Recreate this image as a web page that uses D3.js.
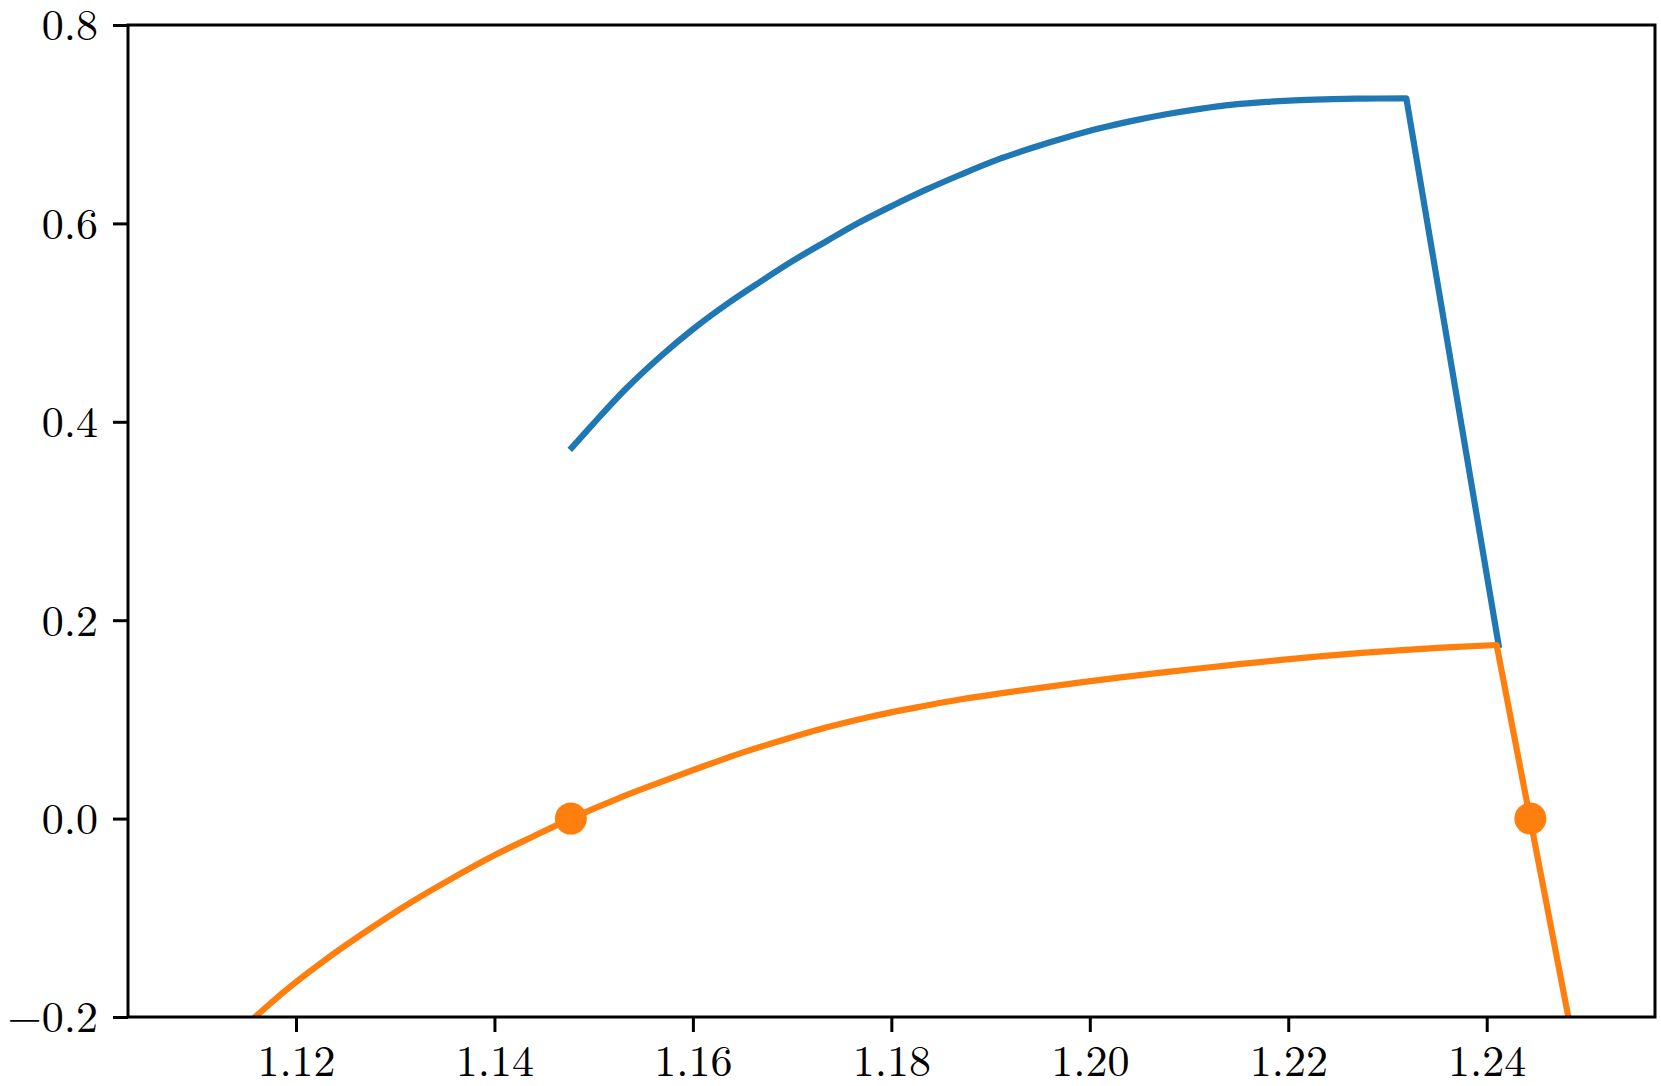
<!DOCTYPE html>
<html>
<head>
<meta charset="utf-8">
<script src="https://cdn.jsdelivr.net/npm/d3@7"></script>
<style>
  html, body { margin: 0; padding: 0; background: #ffffff; }
  svg { display: block; }
</style>
</head>
<body>
<svg id="chart" width="1661" height="1086"></svg>
<script>
// ---- data ----
// smooth branch of the blue curve, then its straight drop
const blueX = [1.1478, 1.1500, 1.1533, 1.1567, 1.1600, 1.1634, 1.1668, 1.1701, 1.1735, 1.1768,
               1.1802, 1.1835, 1.1869, 1.1909, 1.1943, 1.1977, 1.2010, 1.2044, 1.2077, 1.2111,
               1.2144, 1.2178, 1.2212, 1.2245, 1.2279, 1.2319];
const blueY = [0.374, 0.3985, 0.4338, 0.4656, 0.4933, 0.5185, 0.5412, 0.5624, 0.5823, 0.6011,
               0.6183, 0.634, 0.6488, 0.665, 0.6765, 0.6868, 0.6958, 0.7036, 0.7101, 0.7155,
               0.7197, 0.7225, 0.7243, 0.7253, 0.7258, 0.7261];
const blueDropX = [1.2319, 1.2412];
const blueDropY = [0.7261, 0.175];

const orangeX = [1.1100, 1.1161, 1.1186, 1.1228, 1.1271, 1.1313, 1.1356, 1.1398, 1.1440, 1.1477,
                 1.1525, 1.1568, 1.1610, 1.1653, 1.1695, 1.1737, 1.1780, 1.1829, 1.1869, 1.1910,
                 1.1950, 1.1991, 1.2031, 1.2072, 1.2112, 1.2153, 1.2193, 1.2234, 1.2274, 1.2315,
                 1.2355, 1.2410];
const orangeY = [-0.256, -0.198, -0.1761, -0.1435, -0.1135, -0.0862, -0.061, -0.038, -0.0175, 0.0,
                 0.0205, 0.037, 0.0525, 0.0675, 0.0805, 0.0925, 0.103, 0.1128, 0.120, 0.1262,
                 0.1318, 0.1373, 0.1424, 0.1471, 0.1516, 0.1559, 0.160, 0.1637, 0.167, 0.1699,
                 0.1723, 0.175];
const orangeDropX = [1.2410, 1.2500];
const orangeDropY = [0.175, -0.292];

const rootX = [1.1477, 1.2444];
const rootY = [0.0, 0.0];

const xTicks = [1.12, 1.14, 1.16, 1.18, 1.20, 1.22, 1.24];
const yTicks = [-0.2, 0.0, 0.2, 0.4, 0.6, 0.8];

// ---- layout ----
const W = 1661, H = 1086;
const margin = { left: 128, top: 25, right: 6, bottom: 69 };
const iw = W - margin.left - margin.right;
const ih = H - margin.top - margin.bottom;

const svg = d3.select("#chart");
const g = svg.append("g").attr("transform", `translate(${margin.left},${margin.top})`);

const x = d3.scaleLinear().domain([1.10307, 1.25696]).range([0, iw]);
const y = d3.scaleLinear().domain([-0.2, 0.8]).range([ih, 0]);

svg.append("defs").append("clipPath").attr("id", "clip")
  .append("rect").attr("x", 0).attr("y", 0).attr("width", iw).attr("height", ih);

const fontFamily = "'Latin Modern Roman', 'CMU Serif', 'Liberation Serif', 'DejaVu Serif', serif";

const smooth = d3.line().x(d => x(d[0])).y(d => y(d[1])).curve(d3.curveMonotoneX);
const zip = (a, b) => a.map((v, i) => [v, b[i]]);

function pathD(smoothPts, dropPts) {
  // smooth branch followed by a straight segment, one continuous path
  const d1 = smooth(smoothPts);
  const rest = dropPts.slice(1).map(p => `L${x(p[0])},${y(p[1])}`).join("");
  return d1 + rest;
}

const plot = g.append("g").attr("clip-path", "url(#clip)");

const series = [
  { pts: zip(blueX, blueY), drop: zip(blueDropX, blueDropY), color: "#1f77b4" },
  { pts: zip(orangeX, orangeY), drop: zip(orangeDropX, orangeDropY), color: "#ff7f0e" }
];

series.forEach(s => {
  plot.append("path")
    .attr("d", pathD(s.pts, s.drop))
    .attr("fill", "none")
    .attr("stroke", s.color)
    .attr("stroke-width", 6.2)
    .attr("stroke-linejoin", "round")
    .attr("stroke-linecap", "square");
});

plot.selectAll("circle.root").data(zip(rootX, rootY))
  .enter().append("circle")
  .attr("class", "root")
  .attr("cx", d => x(d[0]))
  .attr("cy", d => y(d[1]))
  .attr("r", 16)
  .attr("fill", "#ff7f0e");

// ---- axes ----
const fmtY = v => d3.format(".1f")(v).replace("-", "\u2212");
const xAxis = d3.axisBottom(x).tickValues(xTicks).tickFormat(d3.format(".2f"))
  .tickSize(15).tickPadding(12);
const yAxis = d3.axisLeft(y).tickValues(yTicks).tickFormat(fmtY)
  .tickSize(15).tickPadding(15);

const gx = g.append("g").attr("transform", `translate(0,${ih})`).call(xAxis);
const gy = g.append("g").call(yAxis);

[gx, gy].forEach(a => {
  a.select(".domain").remove();
  a.selectAll(".tick line").attr("stroke", "#000").attr("stroke-width", 3);
  a.selectAll(".tick text")
    .attr("fill", "#000")
    .style("font-family", fontFamily)
    .style("font-size", "44px");
});
gy.selectAll(".tick text").attr("dy", "0.34em");
gx.selectAll(".tick text").attr("dy", "0.72em");

// frame (spines)
g.append("rect")
  .attr("x", 0).attr("y", 0).attr("width", iw).attr("height", ih)
  .attr("fill", "none").attr("stroke", "#000").attr("stroke-width", 3);
</script>
</body>
</html>
